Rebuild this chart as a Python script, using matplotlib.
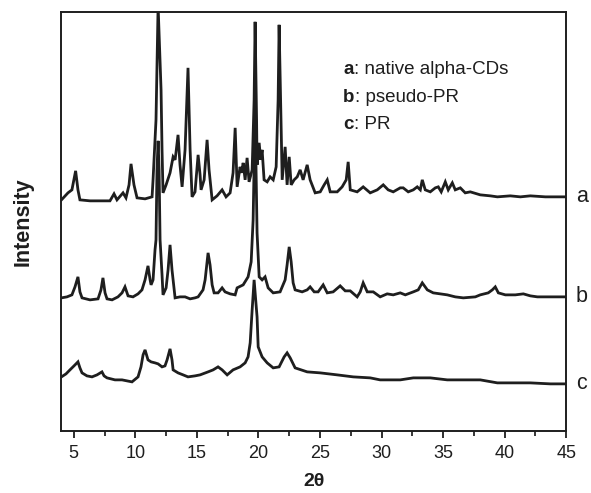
import matplotlib
matplotlib.use("Agg")
import matplotlib.pyplot as plt
from matplotlib.ticker import MultipleLocator

plt.rcParams['font.family'] = ['Liberation Sans', 'DejaVu Sans']

# ---- data (intensity in arbitrary units, curves stacked) ----
two_theta_a = [4.00, 4.53, 4.85, 5.15, 5.34, 5.50, 6.32, 7.13, 7.94, 8.27, 8.51, 9.00, 9.24, 9.49, 9.65,
               9.89, 10.14, 10.79, 11.36, 11.44, 11.68, 11.85, 12.01, 12.09, 12.17, 12.25, 12.50, 12.82,
               13.07, 13.23, 13.31, 13.47, 13.63, 13.80, 14.04, 14.28, 14.45, 14.61, 14.85, 15.10, 15.26,
               15.34, 15.59, 15.83, 15.99, 16.24, 16.64, 17.05, 17.37, 17.70, 17.94, 18.11, 18.27, 18.51,
               18.63, 18.76, 18.92, 19.08, 19.24, 19.49, 19.65, 19.73, 19.85, 19.89, 20.06, 20.18, 20.30,
               20.46, 20.71, 20.95, 21.20, 21.44, 21.60, 21.68, 21.80, 21.93, 22.17, 22.33, 22.50, 22.66,
               22.90, 23.15, 23.39, 23.63, 23.96, 24.20, 24.61, 25.02, 25.34, 25.59, 25.83, 26.40, 26.80,
               27.13, 27.29, 27.46, 28.02, 28.51, 29.08, 29.65, 30.14, 30.54, 30.95, 31.52, 31.76, 32.17,
               32.58, 32.90, 33.15, 33.31, 33.55, 33.96, 34.37, 34.61, 34.85, 35.18, 35.42, 35.75, 35.99,
               36.40, 36.80, 37.21, 38.02, 38.84, 39.41, 40.46, 41.28, 42.09, 43.31, 44.12, 45.00]
intensity_a = [231, 238, 241, 260, 241, 231, 230, 230, 230, 237, 231, 238, 233, 246, 267,
               246, 233, 232, 234, 251, 311, 425, 371, 341, 281, 238, 246, 258,
               274, 271, 279, 296, 266, 244, 281, 363, 281, 234, 239, 276, 256,
               241, 251, 291, 261, 231, 235, 241, 234, 238, 258, 303, 244, 264,
               258, 268, 251, 273, 249, 261, 331, 409, 311, 266, 288, 271, 281,
               251, 249, 254, 251, 264, 331, 406, 331, 251, 284, 246, 274, 246,
               251, 254, 261, 251, 266, 251, 238, 239, 246, 251, 239, 239, 244,
               251, 269, 241, 239, 244, 238, 241, 246, 241, 239, 243, 243, 239,
               241, 244, 241, 251, 241, 239, 243, 244, 239, 249, 241, 248, 241,
               243, 238, 239, 236, 235, 234, 235, 234, 235, 234, 234, 234]

two_theta_b = [4.00, 4.45, 4.85, 5.10, 5.34, 5.50, 5.67, 6.32, 6.97, 7.21, 7.37, 7.54, 7.70, 8.11, 8.59,
               8.92, 9.16, 9.41, 9.81, 10.22, 10.54, 10.79, 11.03, 11.20, 11.28, 11.44, 11.60, 11.68,
               11.76, 11.85, 11.93, 12.01, 12.17, 12.25, 12.50, 12.66, 12.82, 12.98, 13.23, 13.63, 14.04,
               14.45, 14.85, 15.10, 15.50, 15.67, 15.91, 16.07, 16.24, 16.40, 16.72, 17.05, 17.29, 17.70,
               18.11, 18.27, 18.76, 19.16, 19.41, 19.57, 19.73, 19.89, 20.06, 20.30, 20.54, 20.79, 21.20,
               21.76, 22.17, 22.33, 22.50, 22.66, 22.82, 22.98, 23.55, 23.96, 24.20, 24.53, 24.85, 25.26,
               25.59, 26.07, 26.64, 27.05, 27.46, 28.02, 28.27, 28.51, 28.84, 29.33, 29.89, 30.46, 30.95,
               31.52, 31.93, 32.58, 32.98, 33.31, 33.72, 34.20, 35.34, 35.99, 36.64, 37.62, 38.02, 38.67,
               39.00, 39.24, 39.49, 40.06, 40.87, 41.52, 42.09, 42.66, 43.72, 45.00]
intensity_b = [133, 134, 136, 144, 154, 139, 133, 131, 132, 141, 153, 138, 132, 131, 134,
               138, 144, 135, 134, 137, 141, 151, 165, 151, 146, 151, 181, 191,
               261, 290, 261, 191, 156, 136, 143, 161, 186, 161, 133, 134, 134,
               132, 133, 134, 141, 151, 178, 166, 146, 138, 138, 143, 139, 137,
               136, 143, 146, 154, 169, 211, 320, 198, 154, 151, 154, 143, 138,
               139, 151, 166, 184, 169, 148, 141, 139, 141, 144, 139, 139, 146,
               138, 139, 145, 140, 140, 134, 139, 148, 139, 139, 134, 137, 136,
               138, 136, 139, 141, 148, 141, 138, 136, 134, 133, 134, 136, 138,
               141, 144, 138, 136, 136, 137, 135, 134, 134, 134]

two_theta_c = [4.00, 4.37, 4.69, 5.02, 5.34, 5.50, 5.67, 6.07, 6.48, 6.89, 7.29, 7.46, 7.70, 8.35, 8.92,
               9.73, 10.22, 10.46, 10.63, 10.79, 11.03, 11.28, 11.60, 11.85, 12.17, 12.41, 12.58, 12.82,
               12.98, 13.07, 13.47, 13.88, 14.28, 14.85, 15.26, 15.91, 16.32, 16.72, 17.05, 17.46, 17.94,
               18.51, 18.92, 19.16, 19.33, 19.49, 19.65, 19.81, 19.89, 19.98, 20.30, 20.71, 21.20, 21.68,
               22.09, 22.33, 22.58, 22.98, 23.96, 25.02, 26.40, 27.70, 29.08, 29.89, 31.52, 32.58, 33.96,
               35.34, 36.80, 38.02, 39.41, 40.87, 42.09, 43.72, 45.00]
intensity_c = [54, 57, 61, 65, 69, 63, 58, 55, 54, 56, 59, 55, 53, 51, 51,
               49, 54, 64, 76, 81, 71, 69, 68, 67, 64, 65, 71, 82,
               71, 61, 58, 56, 54, 55, 56, 59, 61, 64, 61, 56, 61,
               64, 68, 74, 88, 121, 151, 126, 114, 84, 74, 68, 63, 64,
               74, 78, 73, 63, 59, 58, 56, 54, 53, 51, 51, 53, 53,
               51, 51, 51, 48, 48, 48, 47, 47]

curve_labels = ['a', 'b', 'c']
legend_keys = ['a', 'b', 'c']
legend_texts = ['native alpha-CDs', 'pseudo-PR', 'PR']
x_label = '2θ'
y_label = 'Intensity'

# ---- figure ----
fig = plt.figure(figsize=(5.91, 4.93), dpi=100)
ax = fig.add_axes([0.104, 0.126, 0.854, 0.850])

line_color = '#1e1e1e'
series = [(two_theta_a, intensity_a), (two_theta_b, intensity_b), (two_theta_c, intensity_c)]
for (xs, ys), lab in zip(series, curve_labels):
    ax.plot(xs, ys, color=line_color, lw=2.0, solid_joinstyle='miter')
    ax.annotate(lab, xy=(xs[-1], ys[-1]), xycoords='data', xytext=(7, 0),
                textcoords='offset points', ha='left', va='center',
                fontsize=15.5, color='#1e1e1e', annotation_clip=False)

ax.set_xlim(4, 45)
ax.set_ylim(0, 419)

ax.xaxis.set_major_locator(MultipleLocator(5))
ax.xaxis.set_minor_locator(MultipleLocator(2.5))
ax.set_xticks([5, 10, 15, 20, 25, 30, 35, 40, 45])
ax.tick_params(axis='x', which='major', direction='out', length=5, width=1.3,
               labelsize=13, pad=5, colors='#1e1e1e')
ax.tick_params(axis='x', which='minor', direction='out', length=3.5, width=1.1)
ax.set_yticks([])
for s in ax.spines.values():
    s.set_linewidth(1.4)
    s.set_color('#1e1e1e')

ax.set_xlabel(x_label, fontsize=14, fontweight='bold', labelpad=8, color='#1e1e1e')
ax.set_ylabel(y_label, fontsize=15.5, fontweight='bold', labelpad=20, color='#1e1e1e')

# legend text block
y0 = 0.852
for i, (k, t) in enumerate(zip(legend_keys, legend_texts)):
    key = ax.text(0.558, y0 - i * 0.066, k, transform=ax.transAxes, fontsize=13.5,
                  fontweight='bold', va='baseline', ha='left', color='#1e1e1e')
    ax.annotate(': ' + t, xy=(1.0, 0.0), xycoords=key, xytext=(0.5, 0),
                textcoords='offset points', fontsize=13.5, va='bottom', ha='left',
                color='#1e1e1e')

fig.savefig('out.png', dpi=100)
